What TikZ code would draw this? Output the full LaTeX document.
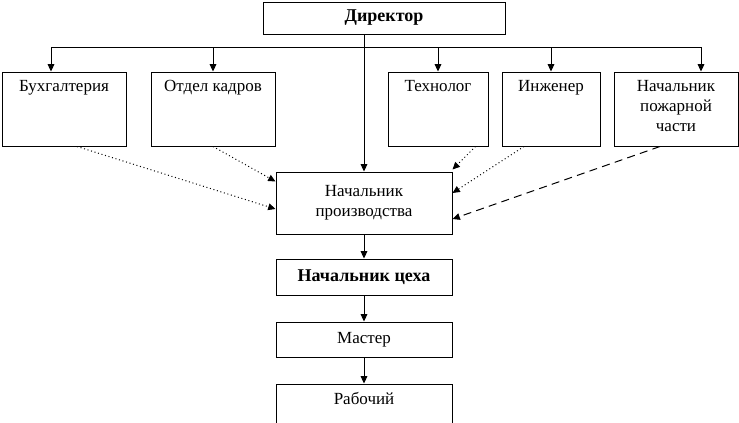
\documentclass[tikz,border=0pt]{standalone}
\usepackage{fontspec}
\setmainfont{Liberation Serif}
\usepackage{tikz}
\usetikzlibrary{positioning}
\usetikzlibrary{arrows.meta}

\begin{document}
\begin{tikzpicture}[x=0.75pt, y=-0.75pt, line width=0.75pt,
  box/.style={draw, inner sep=0pt, align=center, font=\fontsize{12.75}{15}\selectfont},
  boldbox/.style={box, font=\fontsize{13.5}{16}\selectfont\bfseries},
  toptext/.style={anchor=north, inner sep=0pt, yshift=-6.5pt, align=center, font=\fontsize{12.75}{15}\selectfont},
  arr/.style={-{Triangle[length=5.5pt,width=5pt]}}]
\useasboundingbox (0,0) rectangle (739,422);

\node[boldbox, minimum width=181.5pt, minimum height=24pt] (dir) at (384,18) {Директор};

\node[box, minimum width=93pt, minimum height=55.5pt, label={[toptext]north:Бухгалтерия}] (buh) at (64,109) {};
\node[box, minimum width=93pt, minimum height=55.5pt, label={[toptext]north:Отдел кадров}] (kadr) at (213,109) {};
\node[box, minimum width=75pt, minimum height=55.5pt, label={[toptext]north:Технолог}] (tech) at (438,109) {};
\node[box, minimum width=73.5pt, minimum height=55.5pt, label={[toptext]north:Инженер}] (inzh) at (551,109) {};
\node[box, minimum width=93pt, minimum height=55.5pt, label={[toptext]north:Начальник\\пожарной\\части}] (pozh) at (676,109) {};

\node[box, minimum width=132pt, minimum height=46.5pt] (proizv) at (364,203) {Начальник\\производства};
\node[boldbox, minimum width=132pt, minimum height=27pt] (ceh) at (364,277) {Начальник цеха};
\node[box, minimum width=132pt, minimum height=26.25pt] (master) at (364,339.5) {Мастер};
\node[box, minimum width=132pt, minimum height=45pt, label={[toptext]north:Рабочий}] (rab) at (364,414) {};

\coordinate (busL) at (51,47);
\coordinate (busR) at (701,47);
\draw (busL) -- (busR);
\draw[arr] (busL) -- (busL |- buh.north);
\draw[arr] (kadr.north |- busL) -- (kadr.north);
\draw[arr] (tech.north |- busL) -- (tech.north);
\draw[arr] (inzh.north |- busL) -- (inzh.north);
\draw[arr] (busR) -- (busR |- pozh.north);

\draw[arr] (dir.south -| proizv.north) -- (proizv.north);
\draw[arr] (proizv.south) -- (ceh.north);
\draw[arr] (ceh.south) -- (master.north);
\draw[arr] (master.south) -- (rab.north);

\draw[arr, dotted] ([xshift=9.75pt]buh.south) -- ([yshift=-4.5pt]proizv.west);
\draw[arr, dotted] (kadr.south) -- ([yshift=-7.5pt]proizv.north west);
\draw[arr, dotted] ([xshift=-9.75pt]tech.south east) -- ([yshift=1.5pt]proizv.north east);
\draw[arr, dotted] ([xshift=-20.25pt]inzh.south) -- ([yshift=7.5pt]proizv.east);
\draw[arr, dash pattern=on 6pt off 4pt] ([xshift=-12pt]pozh.south) -- ([yshift=-12pt]proizv.east);
\end{tikzpicture}
\end{document}
